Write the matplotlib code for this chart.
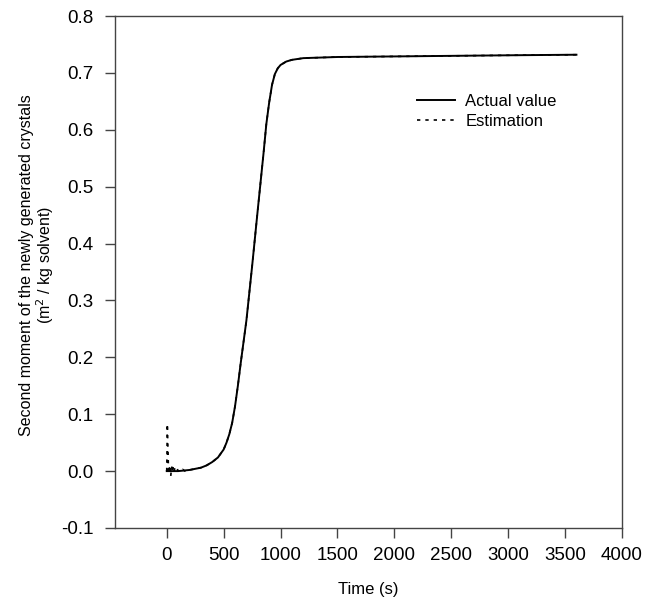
import matplotlib
matplotlib.use("Agg")
import matplotlib.pyplot as plt

plt.rcParams['font.family'] = ['Liberation Sans', 'DejaVu Sans']

# Actual value
act_t = [0, 100, 200, 250, 300, 350, 400, 450, 500, 525, 550, 575, 600, 625, 650,
         700, 750, 800, 850, 875, 900, 925, 950, 975, 1000, 1050, 1100, 1200,
         1500, 2000, 2500, 3000, 3600]
act_v = [0.0, 0.0, 0.002, 0.004, 0.006, 0.010, 0.016, 0.024, 0.038, 0.050, 0.065,
         0.085, 0.114, 0.150, 0.190, 0.265, 0.360, 0.460, 0.558, 0.610, 0.648,
         0.679, 0.698, 0.708, 0.714, 0.720, 0.723, 0.726, 0.728, 0.729, 0.730,
         0.731, 0.732]

# Estimation (start-up transient, then follows the actual value)
est_t = [0, 5, 8, 12, 15, 20, 25, 30, 35, 40, 45, 50, 55, 60, 70, 80, 90, 100,
         110, 120, 140, 160, 180, 200, 300]
est_v = [0.0, 0.083, 0.06, 0.03, 0.0, 0.008, -0.004, 0.010, -0.009, 0.002, 0.007,
         -0.002, 0.006, -0.003, 0.004, 0.001, 0.005, 0.0, 0.003, 0.001, 0.003, 0.0,
         0.002, 0.002, 0.006]

x_ticks = [0, 500, 1000, 1500, 2000, 2500, 3000, 3500, 4000]
y_ticks = [-0.1, 0.0, 0.1, 0.2, 0.3, 0.4, 0.5, 0.6, 0.7, 0.8]

fig = plt.figure(figsize=(6.47, 6.03), dpi=100)
ax = fig.add_axes([0.1777, 0.1244, 0.7836, 0.849])

ax.plot(act_t, act_v, color='black', lw=1.4, ls='-', label='Actual value')
est_full_t = est_t + [t for t in act_t if t > est_t[-1]]
est_full_v = est_v + [v for t, v in zip(act_t, act_v) if t > est_t[-1]]
ax.plot(est_full_t, est_full_v, color='black', lw=1.2, ls=(0, (2, 3)), label='Estimation')

ax.set_xlim(-455, 4000)
ax.set_ylim(-0.1, 0.8)
ax.set_xticks(x_ticks)
ax.set_yticks(y_ticks)
ax.set_xticklabels([str(t) for t in x_ticks], fontsize=13.5)
ax.set_yticklabels([f"{v:.1f}" for v in y_ticks], fontsize=13.5)
ax.tick_params(axis='both', direction='out', length=7, width=1, color='#444444')
ax.tick_params(axis='y', pad=8.5)
ax.tick_params(axis='x', pad=7)
for s in ax.spines.values():
    s.set_color('#444444')
    s.set_linewidth(1)

ax.set_xlabel('Time (s)', fontsize=12, va='center')
ax.xaxis.set_label_coords(0.5, -0.12)
ax.set_ylabel('Second moment of the newly generated crystals\n(m$^2$ / kg solvent)',
              fontsize=11.5, linespacing=1.05, va='center')
ax.yaxis.set_label_coords(-0.153, 0.514)

ax.legend(loc='upper left', bbox_to_anchor=(0.596, 0.848), frameon=False,
          fontsize=12, handlelength=2.3, handletextpad=0.6, labelspacing=0.3,
          borderpad=0, borderaxespad=0)

fig.savefig('out.png', dpi=100)
